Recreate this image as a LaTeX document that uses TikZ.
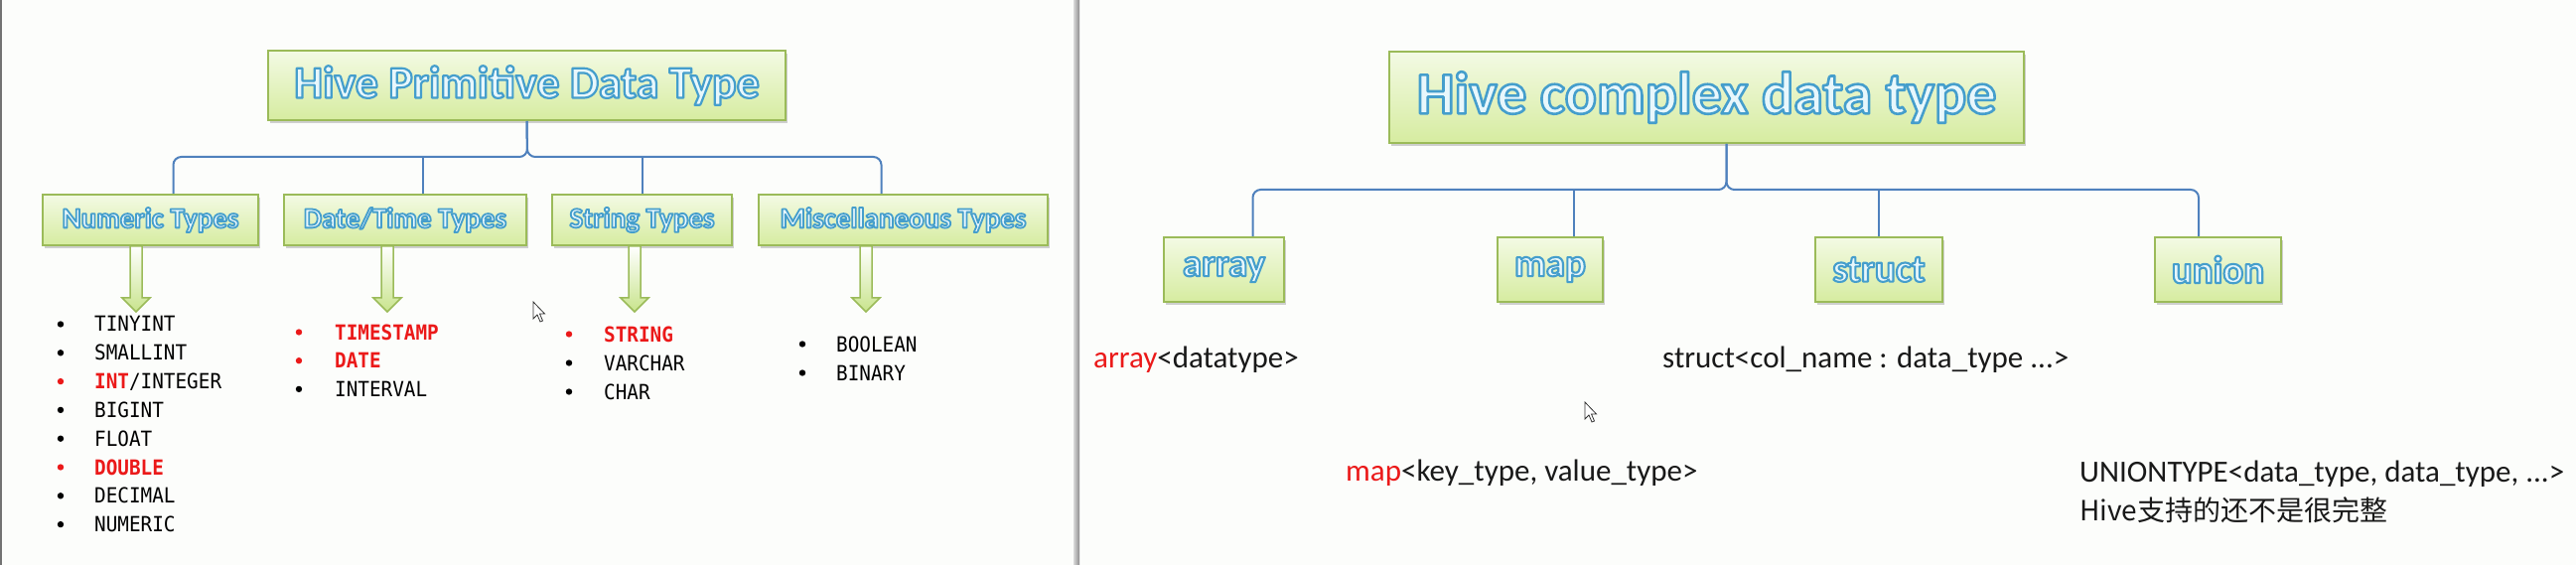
\documentclass[tikz,border=0pt]{standalone}
\usepackage{fontspec}
\usetikzlibrary{shadows}
\setmainfont{Carlito}
\newfontfamily\listfont[FakeStretch=0.92]{DejaVu Sans Mono}
\newfontfamily\cjkfont{Noto Sans CJK SC}
\definecolor{boxline}{RGB}{155,187,89}
\definecolor{boxtop}{RGB}{243,250,228}
\definecolor{boxbot}{RGB}{214,236,160}
\definecolor{connblue}{RGB}{79,129,189}
\definecolor{txtfill}{RGB}{232,247,252}
\definecolor{hred}{RGB}{235,25,25}
\definecolor{bg}{RGB}{252,253,251}
\definecolor{arrbot}{RGB}{200,228,140}
% outlined text: fill light, stroke blue (PDF text render mode 2)
\newcommand{\boxtext}[2]{{\bfseries\color{txtfill}\special{pdf:literal direct 0.27 0.62 0.80 RG #1 w 1 j 2 Tr}#2\special{pdf:literal direct 0 Tr}}}
\newcommand{\blockarrow}[2]{%
  \path[barrow] ([xshift=#2-6pt]#1.south) -- ([xshift=#2+6pt]#1.south)
    -- ([xshift=#2+6pt,yshift=-52pt]#1.south) -- ([xshift=#2+14pt,yshift=-52pt]#1.south)
    -- ([xshift=#2,yshift=-66pt]#1.south) -- ([xshift=#2-14pt,yshift=-52pt]#1.south)
    -- ([xshift=#2-6pt,yshift=-52pt]#1.south) -- cycle;}
\newcommand{\mcursor}[2]{%
  \filldraw[fill=white,draw=black!80,line width=0.8pt] (#1,#2) -- (#1,#2+17) -- (#1+4,#2+13)
    -- (#1+7,#2+20) -- (#1+9.5,#2+19) -- (#1+6.5,#2+12) -- (#1+11.5,#2+12) -- cycle;}
\tikzset{
  hbox/.style={draw=boxline, line width=2pt, top color=boxtop, bottom color=boxbot,
    inner sep=0pt, drop shadow={shadow xshift=2pt, shadow yshift=-3pt, opacity=0.3, fill=black!60}},
  conn/.style={draw=connblue, line width=2pt},
  barrow/.style={draw=boxline, line width=1.5pt, top color=white, bottom color=arrbot},
  item/.style={anchor=base west, inner sep=0pt, font=\listfont\fontsize{21}{26}\selectfont, text=black},
  bitem/.style={item, text=hred, font=\listfont\bfseries\fontsize{21}{26}\selectfont},
  ritem/.style={anchor=base west, inner sep=0pt, font=\fontsize{31}{36}\selectfont, text=black!90},
  bul/.style={fill=black},
  rbul/.style={fill=hred},
}
\begin{document}
\begin{tikzpicture}[x=1pt,y=-1pt]
\useasboundingbox (0,0) rectangle (2594,569);
% panels
\fill[bg] (0,0) rectangle (2594,569);
\fill[black!55] (0,0) rectangle (1.5,569);
\shade[left color=black!15, right color=black!45] (1081,0) rectangle (1087,569);

% ---------- left: primitive types ----------
\node[hbox, minimum width=521pt, minimum height=70pt] (prim) at (530.5,86)
  {\fontsize{46}{56}\selectfont\boxtext{2.2}{Hive Primitive Data Type}};
\node[hbox, minimum width=217pt, minimum height=51pt] (num) at (151.5,221.5)
  {\fontsize{29}{36}\selectfont\boxtext{1.8}{Numeric Types}};
\node[hbox, minimum width=244pt, minimum height=51pt] (date) at (408,221.5)
  {\fontsize{29}{36}\selectfont\boxtext{1.8}{Date/Time Types}};
\node[hbox, minimum width=181pt, minimum height=51pt] (str) at (646.5,221.5)
  {\fontsize{29}{36}\selectfont\boxtext{1.8}{String Types}};
\node[hbox, minimum width=291pt, minimum height=51pt] (misc) at (909.5,221.5)
  {\fontsize{29}{36}\selectfont\boxtext{1.8}{Miscellaneous Types}};

\coordinate (pj) at (531,158);
\draw[conn, rounded corners=8pt] ([xshift=23pt]num.north) |- (pj) -- (prim.south);
\draw[conn, rounded corners=8pt] ([xshift=-22pt]misc.north) |- (pj) -- (prim.south);
\draw[conn] ([xshift=18pt]date.north) -- ([xshift=18pt]date.north |- pj);
\draw[conn] ([xshift=0.5pt]str.north) -- ([xshift=0.5pt]str.north |- pj);

\blockarrow{num}{-14.5pt}
\blockarrow{date}{-18pt}
\blockarrow{str}{-7.5pt}
\blockarrow{misc}{-37.5pt}

% numeric list
\foreach \y/\c in {334/bul,362.8/bul,391.6/rbul,420.4/bul,449.2/bul,478/rbul,506.8/bul,535.6/bul}
  \fill[\c] (61,\y-7.5) circle (3.2pt);
\node[item] (n1) at (95,334) {TINYINT};
\node[item] (n2) at (95,362.8) {SMALLINT};
\node[item] (n3) at (95,391.6) {\textcolor{hred}{\bfseries INT}/INTEGER};
\node[item] (n4) at (95,420.4) {BIGINT};
\node[item] (n5) at (95,449.2) {FLOAT};
\node[bitem] (n6) at (95,478) {DOUBLE};
\node[item] (n7) at (95,506.8) {DECIMAL};
\node[item] (n8) at (95,535.6) {NUMERIC};
% date list
\foreach \y/\c in {342/rbul,370.7/rbul,399.4/bul}
  \fill[\c] (301,\y-7.5) circle (3.2pt);
\node[bitem] (d1) at (337,342) {TIMESTAMP};
\node[bitem] (d2) at (337,370.7) {DATE};
\node[item] (d3) at (337,399.4) {INTERVAL};
% string list
\foreach \y/\c in {344/rbul,373/bul,402/bul}
  \fill[\c] (573,\y-7.5) circle (3.2pt);
\node[bitem] (s1) at (608,344) {STRING};
\node[item] (s2) at (608,373) {VARCHAR};
\node[item] (s3) at (608,402) {CHAR};
% misc list
\foreach \y/\c in {354/bul,383/bul}
  \fill[\c] (808,\y-7.5) circle (3.2pt);
\node[item] (m1) at (842,354) {BOOLEAN};
\node[item] (m2) at (842,383) {BINARY};

\mcursor{537}{304}

% ---------- right: complex types ----------
\node[hbox, minimum width=639pt, minimum height=92pt] (cplx) at (1718.5,98)
  {\fontsize{60}{72}\selectfont\boxtext{2.6}{Hive complex data type}};
\node[hbox, minimum width=121pt, minimum height=65pt] (arr) at (1232.5,271.5)
  {\fontsize{39}{48}\selectfont\boxtext{2.1}{array}};
\node[hbox, minimum width=106pt, minimum height=65pt] (map) at (1561,271.5)
  {\fontsize{39}{48}\selectfont\boxtext{2.1}{map}};
\node[hbox, minimum width=128pt, minimum height=65pt] (struct) at (1892,271.5)
  {\fontsize{39}{48}\selectfont\boxtext{2.1}{struct}};
\node[hbox, minimum width=127pt, minimum height=65pt] (union) at (2233.5,271.5)
  {\fontsize{39}{48}\selectfont\boxtext{2.1}{union}};

\coordinate (cj) at (1738.5,191);
\draw[conn, rounded corners=8pt] ([xshift=29pt]arr.north) |- (cj) -- ([xshift=20pt]cplx.south);
\draw[conn, rounded corners=8pt] ([xshift=-19.5pt]union.north) |- (cj) -- ([xshift=20pt]cplx.south);
\draw[conn] ([xshift=24pt]map.north) -- ([xshift=24pt]map.north |- cj);
\draw[conn] (struct.north) -- (struct.north |- cj);

\node[ritem] (arrt) at (1101,370) {\textcolor{hred}{array}<datatype>};
\node[ritem] (structt) at (1674,370) {struct<col\_name : data\_type ...>};
\node[ritem] (mapt) at (1355,484) {\textcolor{hred}{map}<key\_type, value\_type>};
\node[ritem] (uniont) at (2094,485) {UNIONTYPE<data\_type, data\_type, ...>};
\node[ritem, font=\cjkfont\fontsize{28}{34}\selectfont] (cnt) at (2094,524) {Hive支持的还不是很完整};

\mcursor{1596}{405}
\end{tikzpicture}
\end{document}
